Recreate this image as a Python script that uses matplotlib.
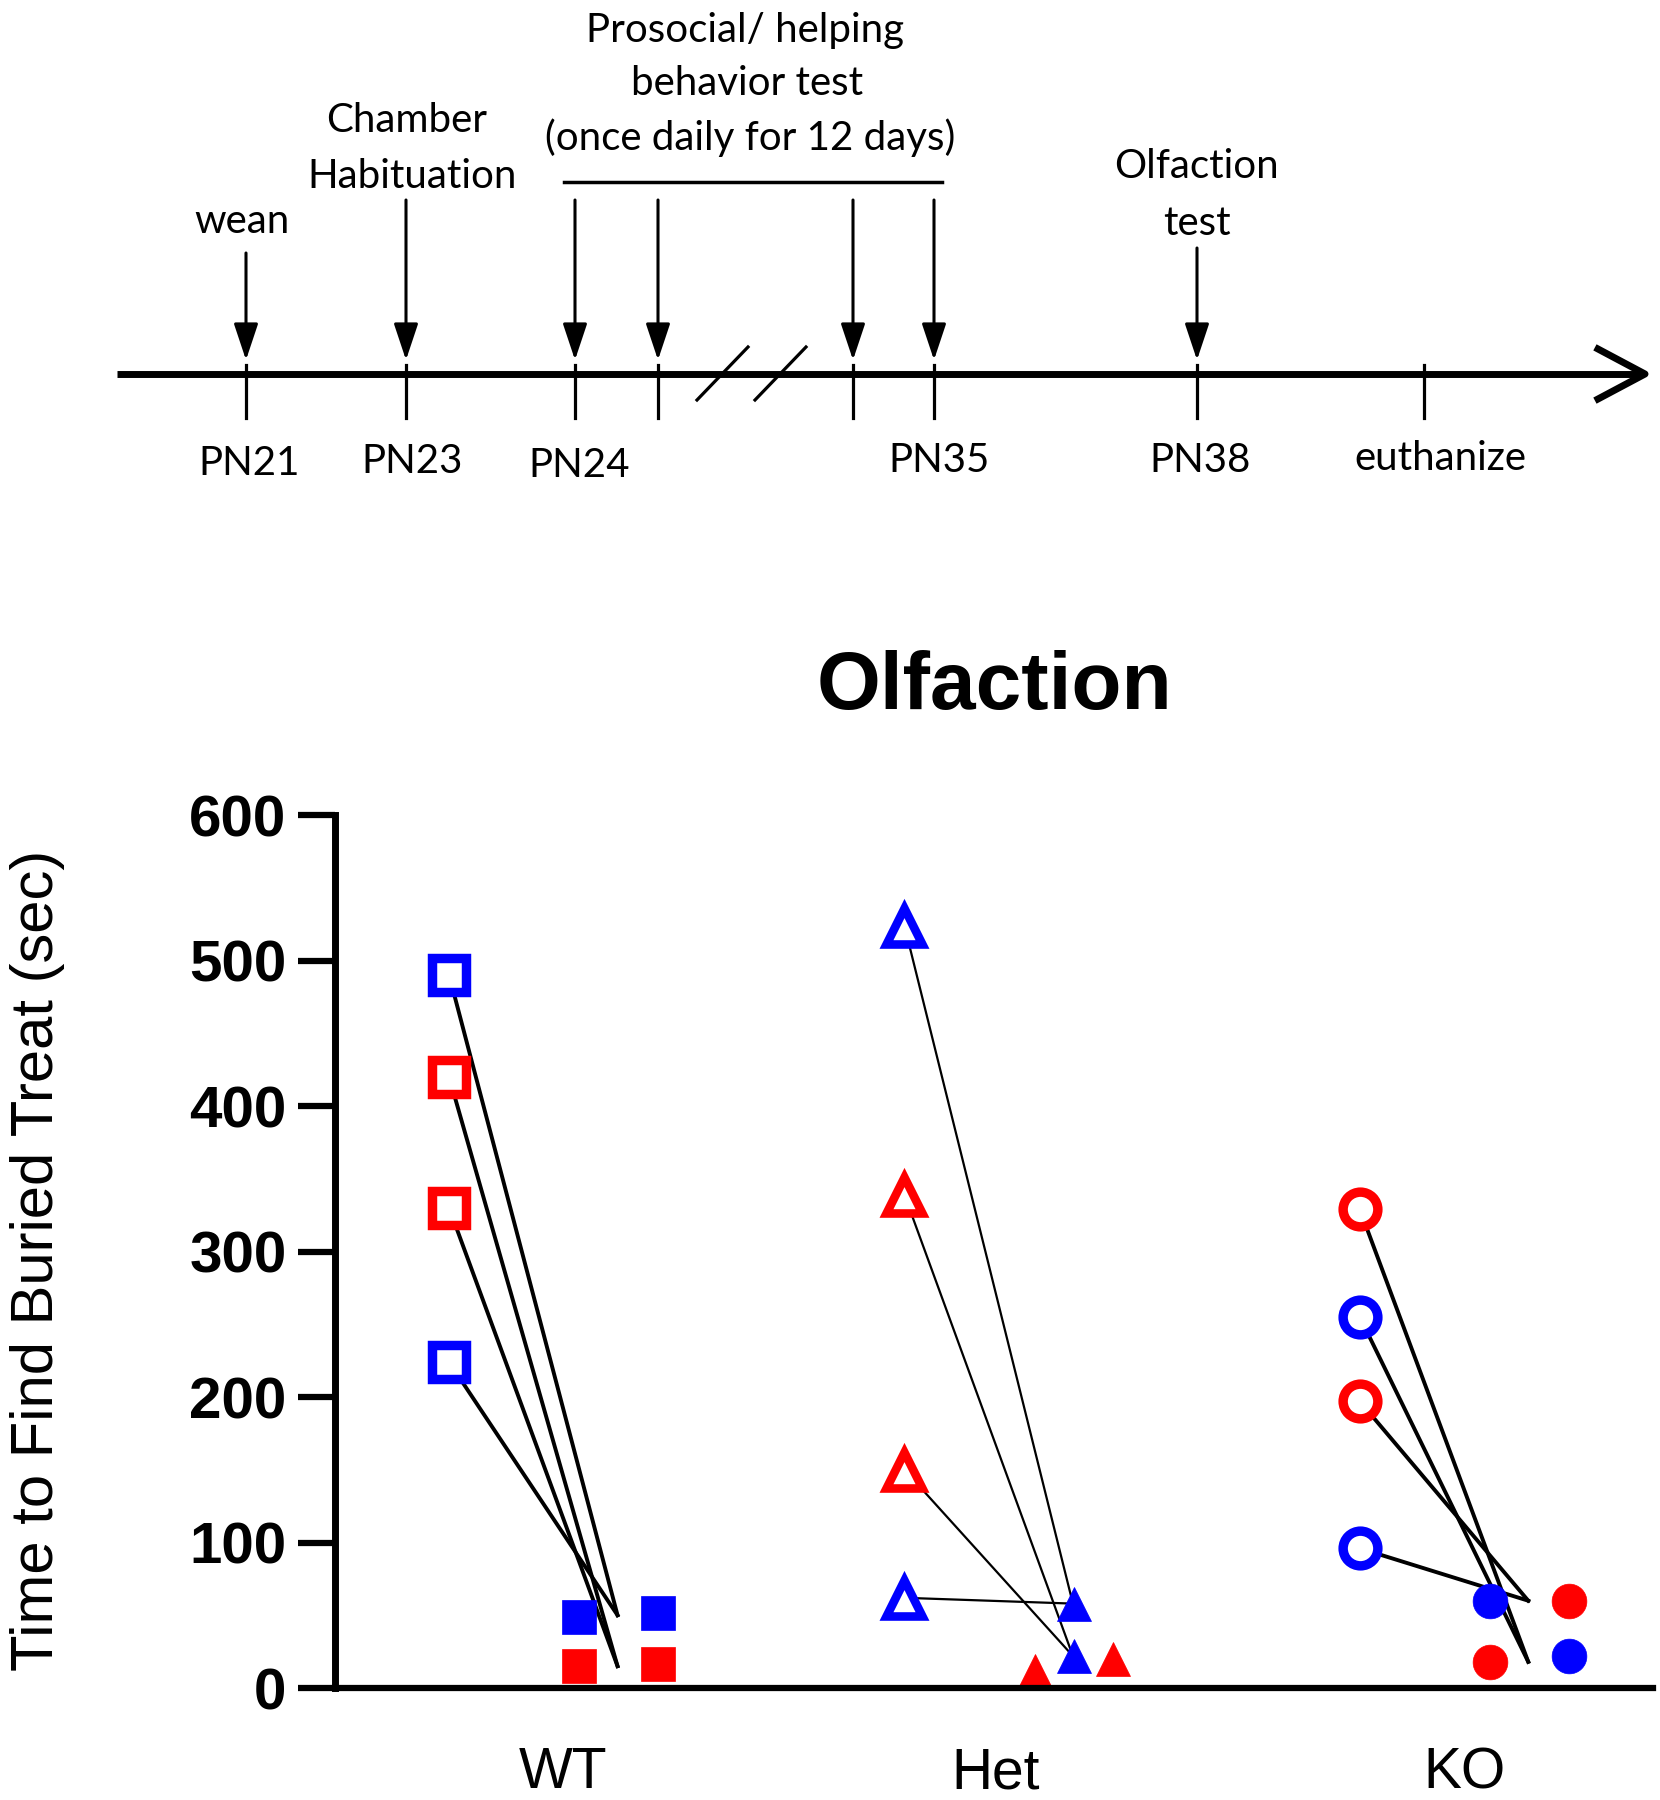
import matplotlib
matplotlib.use('Agg')
import matplotlib.pyplot as plt

# ---- olfaction data (sec) ----
groups = ['WT', 'Het', 'KO']

wt_open = [490, 420, 330, 224]
wt_open_colors = ['blue', 'red', 'red', 'blue']
wt_line_end = [50, 15, 15, 50]
wt_filled = [49, 15, 51.5, 16.5]
wt_filled_colors = ['blue', 'red', 'blue', 'red']
wt_filled_col = [0, 0, 2, 2]

het_open = [524, 339, 150, 62]
het_open_colors = ['blue', 'red', 'red', 'blue']
het_line_end = [58, 22, 22, 58]
het_filled = [12, 58, 22, 20]
het_filled_colors = ['red', 'blue', 'blue', 'red']
het_filled_col = [0, 1, 1, 2]

ko_open = [329, 255, 197, 96]
ko_open_colors = ['red', 'blue', 'red', 'blue']
ko_line_end = [18, 18, 60, 60]
ko_filled = [60, 18, 60, 22]
ko_filled_colors = ['blue', 'red', 'red', 'blue']
ko_filled_col = [0, 0, 2, 2]

yticks = [0, 100, 200, 300, 400, 500, 600]

# ---- timeline ----
day_labels = ['PN21', 'PN23', 'PN24', 'PN35', 'PN38', 'euthanize']
day_label_x = [249, 412, 579, 939, 1200, 1440]
day_label_y = [475, 473, 477, 472, 472, 470]
tick_x = [246, 406, 575, 658, 853, 934, 1197, 1424]
arrow_x = [246, 406, 575, 658, 853, 934, 1197]
arrow_top = [253, 200, 200, 200, 200, 200, 248]
event_text = ['wean', 'Chamber', 'Habituation', 'Prosocial/ helping',
              'behavior test', '(once daily for 12 days)', 'Olfaction', 'test']
event_x = [242, 407, 412, 745, 747, 750, 1196, 1197]
event_y = [233, 132, 188, 42, 95, 150, 178, 235]

tl_font = 'Lato'
fig = plt.figure(figsize=(16.6, 18), dpi=100)

tl = fig.add_axes([0, 0, 1, 1])
tl.set_xlim(0, 1660)
tl.set_ylim(1800, 0)
tl.axis('off')

tl.plot([117, 1640], [374, 374], color='black', lw=5, solid_capstyle='butt')
tl.plot([1598, 1645, 1598], [349, 374, 399], color='black', lw=5)
for x in tick_x:
    tl.plot([x, x], [365, 418], color='black', lw=2.3)
for x0, x1 in [(697, 748), (755, 806)]:
    tl.plot([x0, x1], [400, 347], color='black', lw=2.3)
tl.plot([564, 942], [182, 182], color='black', lw=2.5)
for x, top in zip(arrow_x, arrow_top):
    tl.annotate('', xy=(x, 360), xytext=(x, top),
                arrowprops=dict(arrowstyle='-|>,head_length=0.9,head_width=0.3',
                                mutation_scale=25, lw=2.2, color='black',
                                shrinkA=0, shrinkB=0))
for t, x, y in zip(event_text, event_x, event_y):
    tl.text(x, y, t, ha='center', va='baseline', fontsize=29, family=tl_font)
for t, x, y in zip(day_labels, day_label_x, day_label_y):
    tl.text(x, y, t, ha='center', va='baseline', fontsize=29, family=tl_font)

# ---- scatter ----
ax = fig.add_axes([0.20181, 0.06222, 0.79398, 0.485])
ax.set_facecolor('none')

open_marker = {'WT': 's', 'Het': '^', 'KO': 'o'}
col_off = [0.286, 0.372, 0.459]
end_off = 0.37
line_w = {'WT': 2.8, 'Het': 1.6, 'KO': 2.8}

data = [
    ('WT', wt_open, wt_open_colors, wt_line_end, wt_filled, wt_filled_colors, wt_filled_col),
    ('Het', het_open, het_open_colors, het_line_end, het_filled, het_filled_colors, het_filled_col),
    ('KO', ko_open, ko_open_colors, ko_line_end, ko_filled, ko_filled_colors, ko_filled_col),
]

for i, (g, ov, oc, le, fv, fc, fcol) in enumerate(data):
    gx = i + 1
    m = open_marker[g]
    for v, e in zip(ov, le):
        ax.plot([gx, gx + end_off], [v, e], color='black', lw=line_w[g],
                clip_on=False, zorder=2)
    for v, c, k in zip(fv, fc, fcol):
        ax.plot(gx + col_off[k], v, marker=m, ms=25, color=c, mec=c, mew=0.5,
                clip_on=False, zorder=3)
    for v, c in zip(ov, oc):
        ax.plot(gx, v, marker=m, ms=25 if m != '^' else 26, mfc='white', mec=c,
                mew=6.8 if m != '^' else 6.2, clip_on=False, zorder=4)

ax.set_xlim(0.7495, 3.644)
ax.set_ylim(0, 600)
ax.set_yticks(yticks)
ax.set_yticklabels([str(t) for t in yticks], fontsize=42, fontweight='bold',
                   family='Liberation Sans')
ax.set_xticks([1.25, 2.2, 3.23])
ax.set_xticklabels(groups, fontsize=41, family='Liberation Sans')
ax.tick_params(axis='x', length=0, pad=42)
ax.tick_params(axis='y', length=27, width=4.5, pad=8)
for s in ['top', 'right']:
    ax.spines[s].set_visible(False)
ax.spines['left'].set_linewidth(5)
ax.spines['bottom'].set_linewidth(4.5)
ax.spines['bottom'].set_zorder(5)

ax.set_ylabel('Time to Find Buried Treat (sec)', fontsize=43, family='Liberation Sans')
ax.yaxis.set_label_coords(-0.205, 0.49)
ax.set_title('Olfaction', fontsize=59, fontweight='bold', family='Liberation Sans', pad=76)

fig.savefig('out.png', dpi=100)
